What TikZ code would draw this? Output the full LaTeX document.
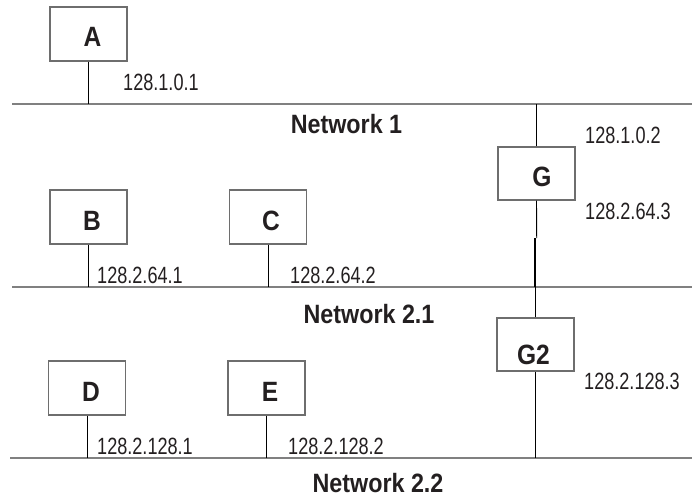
\documentclass[tikz,border=0pt]{standalone}
\usepackage{fontspec}
\newfontfamily\lblfont{Liberation Sans}[FakeStretch=0.77]
\newfontfamily\netfont{Liberation Sans}[FakeStretch=0.88]
\definecolor{netgray}{HTML}{808080}
\definecolor{boxgray}{HTML}{6E6E6E}
\definecolor{txt}{HTML}{231F20}
\begin{document}
\begin{tikzpicture}[x=1pt,y=-1pt,
  net/.style={draw=netgray, line width=2pt},
  box/.style={draw=boxgray, line width=1.3pt, minimum width=77pt, minimum height=54pt, inner sep=0pt},
  conn/.style={draw=black, line width=0.9pt},
  thickconn/.style={draw=black, line width=1.8pt},
  addr/.style={inner sep=0pt, anchor=west, text=txt, font=\lblfont\fontsize{23.5}{26}\selectfont},
  netlbl/.style={inner sep=0pt, text=txt, font=\netfont\bfseries\fontsize{26.5}{30}\selectfont},
  hostlbl/.style={inner sep=0pt, text=txt, font=\netfont\bfseries\fontsize{27.9}{30}\selectfont}]
\useasboundingbox (0,0) rectangle (692,500);

% network lines
\coordinate (n1l) at (12,104);  \coordinate (n1r) at (692,104);
\coordinate (n2l) at (12,287);  \coordinate (n2r) at (692,287);
\coordinate (n3l) at (10,458);  \coordinate (n3r) at (692,458);
\draw[net] (n1l) -- (n1r);
\draw[net] (n2l) -- (n2r);
\draw[net] (n3l) -- (n3r);

% boxes
\node[box] (A)  at (88.5,34) {};
\node[box] (B)  at (88.5,217) {};
\node[box] (C)  at (268,217) {};
\node[box] (D)  at (87,388) {};
\node[box] (E)  at (266.5,388) {};
\node[box, minimum height=53pt] (G)  at (536.5,173.5) {};
\node[box, minimum height=53pt] (G2) at (535.5,344.5) {};

% box labels
\node[hostlbl] (Alab)  at ([shift={(4,3)}]A.center) {A};
\node[hostlbl] (Blab)  at ([shift={(3.5,4)}]B.center) {B};
\node[hostlbl] (Clab)  at ([shift={(3,4)}]C.center) {C};
\node[hostlbl] (Dlab)  at ([shift={(4,4)}]D.center) {D};
\node[hostlbl] (Elab)  at ([shift={(3.5,4)}]E.center) {E};
\node[hostlbl] (Glab)  at ([shift={(5.5,3.5)}]G.center) {G};
\node[hostlbl] (G2lab) at ([shift={(-2,10.5)}]G2.center) {G2};

% connectors
\draw[conn] (A.south) -- (A.south |- n1l);
\draw[conn] (B.south) -- (B.south |- n2l);
\draw[conn] (C.south) -- (C.south |- n2l);
\draw[conn] (D.south) -- (D.south |- n3l);
\draw[conn] (E.south) -- (E.south |- n3l);
\draw[conn] (G.north) -- (G.north |- n1l);
\coordinate (gmid) at (536.7,238);
\coordinate (gmidb) at (535,238);
\draw[conn] (G.south) -- (gmid);
\draw[thickconn] (gmidb) -- (gmidb |- n2l);
\draw[conn] (G2.north) -- (G2.north |- n2l);
\draw[conn] (G2.south) -- (G2.south |- n3l);

% addresses
\node[addr] (a1) at (123,82.5) {128.1.0.1};
\node[addr] (a2) at (585,135) {128.1.0.2};
\node[addr] (a3) at (585,211) {128.2.64.3};
\node[addr] (a4) at (97,275) {128.2.64.1};
\node[addr] (a5) at (290,275) {128.2.64.2};
\node[addr] (a6) at (584,381) {128.2.128.3};
\node[addr] (a7) at (97,446) {128.2.128.1};
\node[addr] (a8) at (288,446) {128.2.128.2};

% network labels
\node[netlbl] (net1)  at (346.5,124) {Network 1};
\node[netlbl] (net21) at (369,314) {Network 2.1};
\node[netlbl] (net22) at (378,483) {Network 2.2};
\end{tikzpicture}
\end{document}
